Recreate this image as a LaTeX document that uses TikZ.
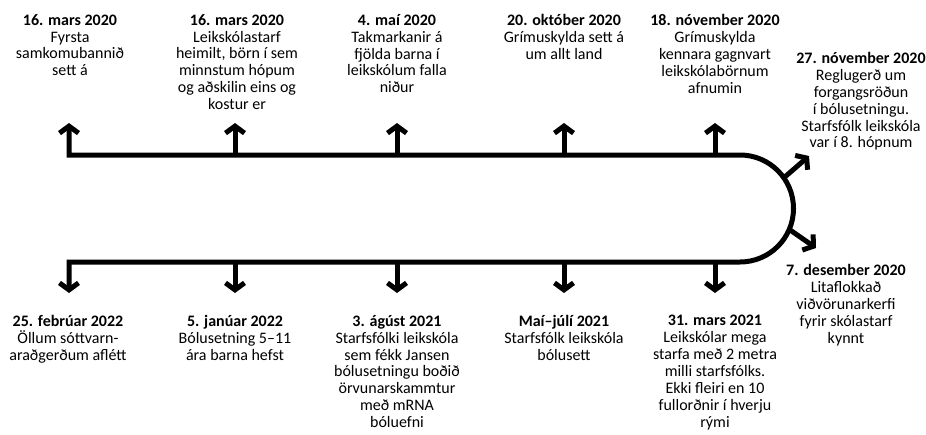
\documentclass[tikz,border=0pt]{standalone}
\usepackage{fontspec}
\setmainfont{Carlito}
\usetikzlibrary{arrows.meta}

\begin{document}
\begin{tikzpicture}[x=1pt,y=1pt]
\tikzstyle{every node}+=[inner sep=0pt, align=center, font=\fontsize{16}{16.9}\selectfont]
\tikzstyle{tip}=[line width=5pt, line join=miter, {Straight Barb[length=7pt,width=19pt]}-{Straight Barb[length=7pt,width=19pt]}]
\tikzstyle{tick}=[line width=5pt, -{Straight Barb[length=7pt,width=19pt]}]
\useasboundingbox (0,0) rectangle (926,-434);
% timeline
\coordinate (h1) at (69,-123);
\coordinate (t1) at (69,-155);
\coordinate (c) at (740,-208.5);
\coordinate (b1) at (69,-262);
\coordinate (g1) at (69,-293);
\draw [tip] (h1) -- (t1) -- (740,-155) arc (90:-90:53.5) -- (b1) -- (g1);
% top arrows
\coordinate (t2) at (235,-157); \coordinate (h2) at (235,-123);
\coordinate (t3) at (397,-157); \coordinate (h3) at (397,-123);
\coordinate (t4) at (564,-157); \coordinate (h4) at (564,-123);
\coordinate (t5) at (715,-157); \coordinate (h5) at (715,-123);
\draw [tick] (t2) -- (h2);
\draw [tick] (t3) -- (h3);
\draw [tick] (t4) -- (h4);
\draw [tick] (t5) -- (h5);
% bottom arrows
\coordinate (b2) at (235,-260); \coordinate (g2) at (235,-293);
\coordinate (b3) at (397,-260); \coordinate (g3) at (397,-293);
\coordinate (b4) at (564,-260); \coordinate (g4) at (564,-293);
\coordinate (b5) at (715,-260); \coordinate (g5) at (715,-293);
\draw [tick] (b2) -- (g2);
\draw [tick] (b3) -- (g3);
\draw [tick] (b4) -- (g4);
\draw [tick] (b5) -- (g5);
% arrows off the curve
\coordinate (d1) at ([shift={(35:53.5)}]c);
\coordinate (e1) at (809,-156);
\coordinate (d2) at ([shift={(-23:53.5)}]c);
\coordinate (e2) at (816,-248);
\draw [tick] (d1) -- (e1);
\draw [tick] (d2) -- (e2);
% labels above
\node [anchor=north] (mar16a) at (70,-14) {\textbf{16. mars 2020}\\Fyrsta\\samkomubannið\\sett á};
\node [anchor=north] (mar16b) at (237,-14) {\textbf{16. mars 2020}\\Leikskólastarf\\heimilt, börn í sem\\minnstum hópum\\og aðskilin eins og\\kostur er};
\node [anchor=north] (mai4) at (397,-14) {\textbf{4. maí 2020}\\Takmarkanir á\\fjölda barna í\\leikskólum falla\\niður};
\node [anchor=north] (okt20) at (564,-14) {\textbf{20. október 2020}\\Grímuskylda sett á\\um allt land};
\node [anchor=north] (nov18) at (715,-14) {\textbf{18. nóvember 2020}\\Grímuskylda\\kennara gagnvart\\leikskólabörnum\\afnumin};
\node [anchor=north] (nov27) at (861,-52) {\textbf{27. nóvember 2020}\\Reglugerð um\\forgangsröðun\\í bólusetningu.\\Starfsfólk leikskóla\\var í 8. hópnum};
% labels below
\node [anchor=north] (des7) at (846,-264) {\textbf{7. desember 2020}\\Litaflokkað\\viðvörunarkerfi\\fyrir skólastarf\\kynnt};
\node [anchor=north] (feb25) at (68,-315) {\textbf{25. febrúar 2022}\\Öllum sóttvarn-\\araðgerðum aflétt};
\node [anchor=north] (jan5) at (235,-315) {\textbf{5. janúar 2022}\\Bólusetning 5--11\\ára barna hefst};
\node [anchor=north] (ag3) at (397,-315) {\textbf{3. ágúst 2021}\\Starfsfólki leikskóla\\sem fékk Jansen\\bólusetningu boðið\\örvunarskammtur\\með mRNA\\bóluefni};
\node [anchor=north] (maijul) at (564,-315) {\textbf{Maí--júlí 2021}\\Starfsfólk leikskóla\\bólusett};
\node [anchor=north] (mar31) at (715,-315) {\textbf{31. mars 2021}\\Leikskólar mega\\starfa með 2 metra\\milli starfsfólks.\\Ekki fleiri en 10\\fullorðnir í hverju\\rými};
\end{tikzpicture}
\end{document}
